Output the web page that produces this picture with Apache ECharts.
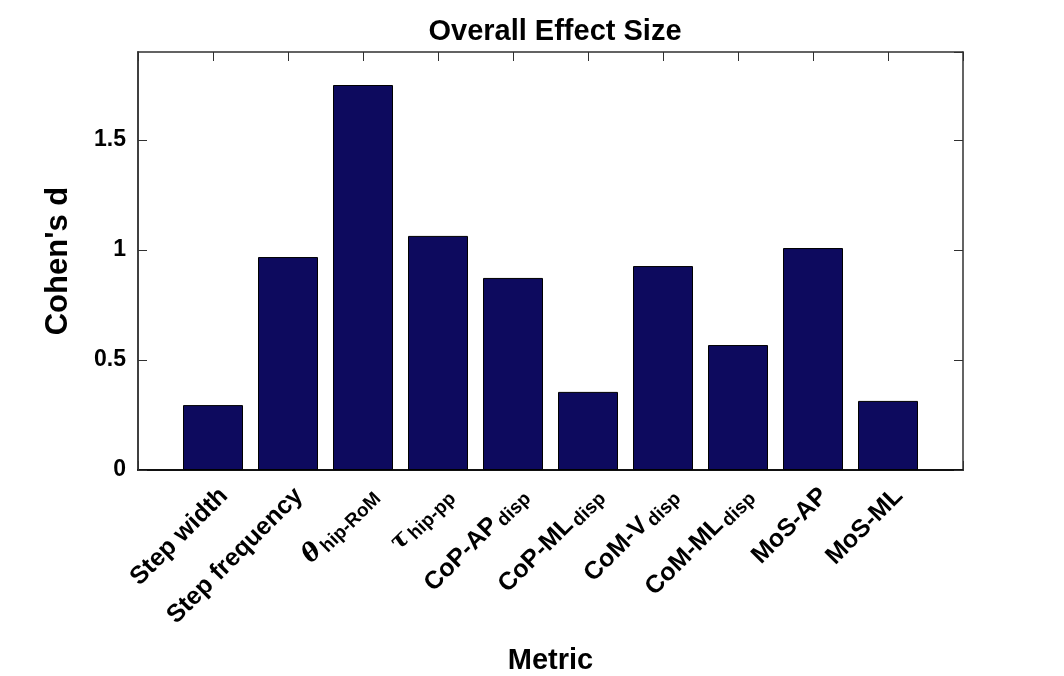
<!DOCTYPE html>
<html>
<head>
<meta charset="utf-8">
<script src="https://cdn.jsdelivr.net/npm/echarts@6/dist/echarts.min.js"></script>
<style>html,body{margin:0;padding:0;background:#fff;}#c{width:1064px;height:676px;}</style>
</head>
<body>
<div id="c"></div>
<script>
const categories = ['Step width','Step frequency','θ','τ','CoP-AP','CoP-ML','CoM-V','CoM-ML','MoS-AP','MoS-ML'];
const subscripts = ['','','hip-RoM','hip-pp','disp','disp','disp','disp','',''];
const cohensD = [0.295, 0.968, 1.75, 1.064, 0.873, 0.355, 0.927, 0.568, 1.009, 0.314];
const yTicks = [0, 0.5, 1, 1.5];
const titleText = 'Overall Effect Size';
const xName = 'Metric';
const yName = "Cohen's d";

const FONT = '"Liberation Sans", Arial, Helvetica, sans-serif';
const AX = '#303030';
const chart = echarts.init(document.getElementById('c'), null, {renderer: 'canvas'});

const barData = cohensD.map((v, i) => [i + 1, v]);

function catLabel(value) {
  const i = Math.round(value) - 1;
  if (i < 0 || i >= categories.length || Math.abs(value - (i + 1)) > 1e-6) return '';
  const main = categories[i];
  const sub = subscripts[i];
  const greek = (main === 'θ' || main === 'τ');
  let s = greek ? '{g|' + main + '}' : '{m|' + main + '}';
  if (sub) s += '{sp| }{s|' + sub + '}';
  return s;
}

const gridMain = {left: 138, right: 101, top: 52, bottom: 206, containLabel: false, outerBoundsMode: 'none'};
const gridLab = {left: 149, right: 90, top: 52, bottom: 206, containLabel: false, outerBoundsMode: 'none'};

chart.setOption({
  animation: false,
  backgroundColor: '#fff',
  title: {
    text: titleText, left: 550, top: 12, textAlign: 'center',
    textStyle: {fontFamily: FONT, fontWeight: 'bold', fontSize: 29, color: '#000'}
  },
  grid: [gridMain, gridLab],
  xAxis: [{
    gridIndex: 0, type: 'value', min: 0, max: 11, interval: 1, position: 'bottom',
    name: xName, nameLocation: 'middle', nameGap: 176,
    nameTextStyle: {fontFamily: FONT, fontWeight: 'bold', fontSize: 29, color: '#000'},
    axisLine: {show: true, onZero: false, lineStyle: {color: '#111', width: 2}},
    axisTick: {show: true, inside: true, length: 9, lineStyle: {color: AX, width: 1}},
    splitLine: {show: false},
    axisLabel: {show: false}
  }, {
    gridIndex: 0, type: 'value', min: 0, max: 11, interval: 1, position: 'top',
    axisLine: {show: true, onZero: false, lineStyle: {color: AX, width: 1.5}},
    axisTick: {show: true, inside: true, length: 9, lineStyle: {color: AX, width: 1}},
    axisLabel: {show: false}, splitLine: {show: false}
  }, {
    gridIndex: 1, type: 'value', min: 0, max: 11, interval: 1, position: 'bottom',
    axisLine: {show: false}, axisTick: {show: false}, splitLine: {show: false},
    axisLabel: {
      rotate: 45, margin: 22, interval: 0, formatter: catLabel,
      fontFamily: FONT, fontWeight: 'bold', fontSize: 25, color: '#000',
      rich: {
        m: {fontFamily: FONT, fontWeight: 'bold', fontSize: 25, color: '#000', lineHeight: 30, verticalAlign: 'middle'},
        g: {fontFamily: '"DejaVu Serif", serif', fontStyle: 'italic', fontSize: 25, color: '#000', lineHeight: 30, verticalAlign: 'middle'},
        sp: {fontSize: 10, lineHeight: 30},
        s: {fontFamily: FONT, fontWeight: 'bold', fontSize: 19, color: '#000', lineHeight: 19, verticalAlign: 'bottom', padding: [7, 0, 0, 0]}
      }
    }
  }],
  yAxis: [{
    gridIndex: 0, type: 'value', min: 0, max: 1.9, interval: 0.5, position: 'left',
    name: yName, nameLocation: 'middle', nameGap: 64, nameRotate: 90,
    nameTextStyle: {fontFamily: FONT, fontWeight: 'bold', fontSize: 31, color: '#000'},
    axisLine: {show: true, onZero: false, lineStyle: {color: '#404040', width: 2}},
    axisTick: {show: true, inside: true, length: 9, lineStyle: {color: AX, width: 1}},
    splitLine: {show: false},
    axisLabel: {
      margin: 12, fontFamily: FONT, fontWeight: 'bold', fontSize: 23, color: '#000', showMaxLabel: false,
      formatter: v => (yTicks.indexOf(v) >= 0 ? String(v) : '')
    }
  }, {
    gridIndex: 0, type: 'value', min: 0, max: 1.9, interval: 0.5, position: 'right',
    axisLine: {show: true, onZero: false, lineStyle: {color: AX, width: 1.5}},
    axisTick: {show: true, inside: true, length: 9, lineStyle: {color: AX, width: 1}},
    axisLabel: {show: false}, splitLine: {show: false}
  }, {
    gridIndex: 1, type: 'value', min: 0, max: 1.9, show: false
  }],
  series: [{
    type: 'bar', xAxisIndex: 0, yAxisIndex: 0,
    data: barData, barWidth: 60,
    itemStyle: {color: '#0d0a5e', borderColor: '#000', borderWidth: 1}
  }]
});
</script>
</body>
</html>
